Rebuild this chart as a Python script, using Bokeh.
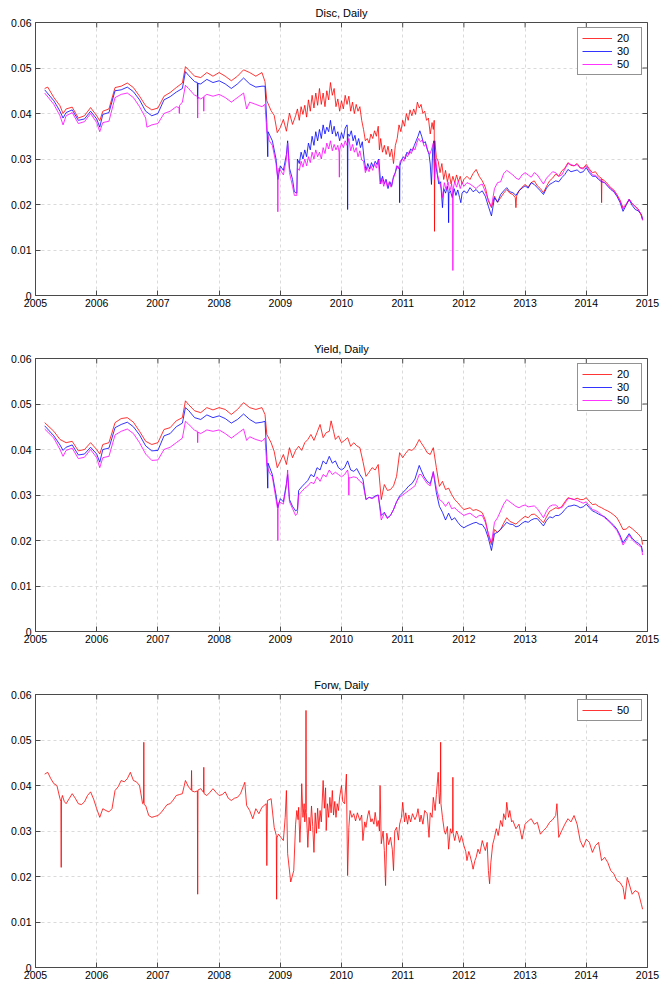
import math
from bokeh.plotting import figure
from bokeh.layouts import column
from bokeh.models import FixedTicker, Legend, LegendItem, Range1d
from bokeh.embed import file_html
from bokeh.resources import INLINE

# ---- axis ticks -------------------------------------------------------------
YEAR_TICKS = list(range(2005, 2016))
Y_TICKS = [0, 0.01, 0.02, 0.03, 0.04, 0.05, 0.06]
Y_LABELS = ["0", "0.01", "0.02", "0.03", "0.04", "0.05", "0.06"]

# ---- Disc, Daily (time in decimal years, rate) --------------------------------
disc_20 = [(2005.15,0.0455),(2005.2,0.0458),(2005.3,0.0435),(2005.4,0.0417),(2005.45,0.0400),(2005.5,0.0410),(2005.6,0.0414),(2005.7,0.0390),(2005.8,0.0395),(2005.9,0.0413),(2006.0,0.0395),(2006.05,0.0384),(2006.1,0.0405),(2006.2,0.0410),(2006.3,0.0457),(2006.4,0.0460),(2006.5,0.0467),(2006.6,0.0457),(2006.7,0.0438),(2006.8,0.0417),(2006.9,0.0408),(2007.0,0.0412),(2007.1,0.0438),(2007.2,0.0446),(2007.3,0.0457),(2007.4,0.0467),(2007.45,0.0503),(2007.5,0.0496),(2007.6,0.0482),(2007.7,0.0479),(2007.8,0.0490),(2007.9,0.0482),(2008.0,0.0490),(2008.1,0.0482),(2008.2,0.0472),(2008.3,0.0482),(2008.4,0.0496),(2008.5,0.0490),(2008.6,0.0482),(2008.7,0.0490),(2008.75,0.0470),(2008.78,0.0428),(2008.85,0.0406),(2008.9,0.0396),(2008.95,0.0358),(2009.0,0.0369),(2009.05,0.0387),(2009.1,0.0361),(2009.15,0.0401),(2009.2,0.0376),
    (2009.25,0.0395),(2009.28,0.0410),(2009.31,0.0385),(2009.34,0.0415),(2009.37,0.0398),(2009.40,0.0418),(2009.43,0.0392),(2009.46,0.0430),(2009.49,0.0405),(2009.52,0.0440),(2009.55,0.0412),(2009.58,0.0445),(2009.61,0.0418),(2009.64,0.0455),(2009.67,0.0420),(2009.70,0.0445),(2009.73,0.0415),(2009.76,0.0450),(2009.79,0.0430),(2009.82,0.0468),(2009.85,0.0440),(2009.88,0.0455),(2009.91,0.0415),(2009.94,0.0432),(2009.97,0.0405),(2010.00,0.0428),(2010.03,0.0410),(2010.06,0.0440),(2010.09,0.0420),(2010.12,0.0438),(2010.15,0.0405),(2010.18,0.0425),(2010.21,0.0400),(2010.24,0.0420),(2010.27,0.0405),(2010.30,0.0415),(2010.33,0.0385),(2010.36,0.0365),(2010.39,0.0340),(2010.42,0.0345),(2010.45,0.0335),(2010.48,0.0355),(2010.51,0.0345),(2010.54,0.0362),(2010.57,0.0350),(2010.60,0.0372),(2010.62,0.0320),(2010.64,0.0345),(2010.67,0.0315),(2010.70,0.0330),(2010.73,0.0310),(2010.76,0.0328),(2010.79,0.0305),(2010.82,0.0322),(2010.85,0.0290),(2010.88,0.0330),(2010.91,0.0345),(2010.94,0.0375),(2010.97,0.0360),(2011.00,0.0385),(2011.03,0.0372),(2011.06,0.0400),(2011.09,0.0385),(2011.12,0.0408),(2011.15,0.0395),(2011.18,0.0410),(2011.21,0.0398),(2011.24,0.0425),(2011.27,0.0412),(2011.30,0.0420),(2011.33,0.0400),(2011.36,0.0405),(2011.39,0.0385),(2011.42,0.0390),(2011.45,0.0355),(2011.48,0.0380),(2011.50,0.0365),(2011.515,0.0385),(2011.52,0.0141),(2011.525,0.0340),(2011.55,0.0303),(2011.58,0.0295),(2011.61,0.0270),(2011.64,0.0290),(2011.67,0.0255),(2011.70,0.0275),(2011.73,0.0250),(2011.76,0.0268),(2011.79,0.0245),(2011.82,0.0262),(2011.85,0.0248),(2011.88,0.0265),(2011.91,0.0250),(2011.94,0.0262),(2011.97,0.0245),(2012.0,0.0255),
    (2012.05,0.0262),(2012.1,0.0255),(2012.15,0.0268),(2012.2,0.0277),(2012.25,0.0262),(2012.3,0.0252),(2012.35,0.0238),(2012.4,0.0208),(2012.45,0.0193),(2012.5,0.0218),(2012.55,0.0205),(2012.6,0.0215),(2012.65,0.0225),(2012.7,0.0233),(2012.75,0.0225),(2012.8,0.0222),(2012.84,0.0215),(2012.85,0.0193),(2012.86,0.0218),(2012.9,0.0230),(2012.95,0.0238),(2013.0,0.0244),(2013.05,0.0238),(2013.1,0.0248),(2013.15,0.0252),(2013.2,0.0241),(2013.25,0.0235),(2013.3,0.0226),(2013.35,0.0240),(2013.4,0.0252),(2013.45,0.0258),(2013.5,0.0267),(2013.55,0.0262),(2013.6,0.0274),(2013.65,0.0280),(2013.7,0.0292),(2013.75,0.0286),(2013.8,0.0285),(2013.85,0.0290),(2013.9,0.0281),(2013.95,0.0280),(2014.0,0.0288),(2014.05,0.0278),(2014.1,0.0270),(2014.15,0.0272),(2014.2,0.0262),(2014.245,0.0258),(2014.25,0.0204),(2014.255,0.0256),(2014.3,0.0252),(2014.35,0.0245),(2014.4,0.0237),(2014.45,0.0232),(2014.5,0.0222),(2014.55,0.0210),(2014.6,0.0193),(2014.65,0.0200),(2014.7,0.0211),(2014.75,0.0202),(2014.8,0.0196),(2014.85,0.0190),(2014.9,0.0175),(2014.92,0.0167)]

disc_30 = [(2005.15,0.0452),(2005.3,0.0428),(2005.4,0.0405),(2005.45,0.0390),(2005.5,0.0402),(2005.6,0.0408),(2005.7,0.0385),(2005.8,0.0388),(2005.9,0.0405),(2006.0,0.0388),(2006.05,0.0370),(2006.1,0.0398),(2006.2,0.0402),(2006.3,0.0450),(2006.4,0.0452),(2006.5,0.0458),(2006.6,0.0448),(2006.7,0.0430),(2006.8,0.0405),(2006.9,0.0395),(2007.0,0.0400),(2007.1,0.0430),(2007.2,0.0437),(2007.3,0.0447),(2007.4,0.0455),(2007.45,0.0492),(2007.5,0.0484),(2007.6,0.0470),(2007.645,0.0468),(2007.65,0.0432),(2007.655,0.0466),(2007.7,0.0465),(2007.8,0.0475),(2007.9,0.0468),(2008.0,0.0472),(2008.1,0.0465),(2008.2,0.0455),(2008.3,0.0465),(2008.4,0.0478),(2008.5,0.0465),(2008.6,0.0458),(2008.7,0.0460),(2008.75,0.0460),(2008.78,0.0380),(2008.795,0.0305),(2008.80,0.0360),(2008.87,0.0340),(2008.93,0.0300),(2008.96,0.0255),(2009.0,0.0285),(2009.05,0.0275),(2009.1,0.0310),(2009.12,0.0340),(2009.15,0.0280),(2009.2,0.0255),(2009.23,0.0228),(2009.27,0.0225),
    (2009.28,0.0300),(2009.31,0.0290),(2009.34,0.0315),(2009.37,0.0300),(2009.40,0.0320),(2009.43,0.0305),(2009.46,0.0335),(2009.49,0.0320),(2009.52,0.0350),(2009.55,0.0330),(2009.58,0.0360),(2009.61,0.0340),(2009.64,0.0365),(2009.67,0.0345),(2009.70,0.0375),(2009.73,0.0355),(2009.76,0.0370),(2009.79,0.0360),(2009.82,0.0385),(2009.85,0.0355),(2009.88,0.0372),(2009.91,0.0350),(2009.94,0.0360),(2009.97,0.0340),(2010.00,0.0358),(2010.03,0.0345),(2010.06,0.0368),(2010.09,0.0375),(2010.095,0.0370),(2010.1,0.0189),(2010.105,0.0355),(2010.13,0.0350),(2010.16,0.0362),(2010.19,0.0340),(2010.22,0.0352),(2010.25,0.0330),(2010.28,0.0345),(2010.31,0.0325),(2010.34,0.0338),(2010.37,0.0300),(2010.40,0.0275),(2010.43,0.0290),(2010.46,0.0278),(2010.49,0.0292),(2010.52,0.0282),(2010.55,0.0295),(2010.58,0.0288),(2010.61,0.0300),(2010.64,0.0245),(2010.67,0.0262),(2010.70,0.0245),(2010.73,0.0255),(2010.76,0.0235),(2010.79,0.0250),(2010.82,0.0240),(2010.85,0.0262),(2010.88,0.0270),(2010.91,0.0285),(2010.945,0.0280),(2010.95,0.0204),(2010.955,0.0285),(2010.98,0.0298),(2011.01,0.0305),(2011.04,0.0300),(2011.07,0.0315),(2011.10,0.0310),(2011.13,0.0322),(2011.16,0.0318),(2011.19,0.0330),(2011.22,0.0340),(2011.25,0.0350),(2011.28,0.0362),(2011.31,0.0350),(2011.34,0.0335),(2011.37,0.0338),(2011.40,0.0322),(2011.43,0.0310),(2011.45,0.0289),(2011.47,0.0244),(2011.49,0.0320),(2011.51,0.0340),(2011.53,0.0295),(2011.56,0.0270),(2011.59,0.0245),(2011.62,0.0250),(2011.65,0.0193),(2011.67,0.0235),(2011.70,0.0225),(2011.73,0.0240),(2011.745,0.0225),(2011.75,0.0160),(2011.755,0.0225),(2011.78,0.0230),(2011.81,0.0215),(2011.84,0.0235),(2011.87,0.0220),(2011.90,0.0232),(2011.93,0.0215),(2011.95,0.0204),(2011.97,0.0225),(2012.0,0.0230),
    (2012.05,0.0225),(2012.1,0.0237),(2012.15,0.0228),(2012.2,0.0233),(2012.25,0.0225),(2012.3,0.0230),(2012.35,0.0218),(2012.4,0.0196),(2012.45,0.0175),(2012.5,0.0215),(2012.55,0.0205),(2012.6,0.0222),(2012.65,0.0230),(2012.7,0.0237),(2012.75,0.0228),(2012.8,0.0226),(2012.85,0.0220),(2012.9,0.0230),(2012.95,0.0236),(2013.0,0.0241),(2013.05,0.0236),(2013.1,0.0248),(2013.15,0.0244),(2013.2,0.0237),(2013.25,0.0230),(2013.3,0.0222),(2013.35,0.0236),(2013.4,0.0244),(2013.45,0.0248),(2013.5,0.0252),(2013.55,0.0250),(2013.6,0.0259),(2013.65,0.0266),(2013.7,0.0277),(2013.75,0.0272),(2013.8,0.0274),(2013.85,0.0276),(2013.9,0.0270),(2013.95,0.0272),(2014.0,0.0281),(2014.05,0.0270),(2014.1,0.0262),(2014.15,0.0262),(2014.2,0.0255),(2014.25,0.0250),(2014.3,0.0248),(2014.35,0.0240),(2014.4,0.0233),(2014.45,0.0228),(2014.5,0.0218),(2014.55,0.0205),(2014.6,0.0185),(2014.65,0.0198),(2014.7,0.0211),(2014.75,0.0198),(2014.8,0.0189),(2014.85,0.0186),(2014.9,0.0178),(2014.92,0.0167)]

disc_50 = [(2005.15,0.0445),(2005.3,0.0420),(2005.4,0.0395),(2005.45,0.0375),(2005.5,0.0395),(2005.6,0.0402),(2005.7,0.0378),(2005.8,0.0382),(2005.9,0.0400),(2006.0,0.0380),(2006.05,0.0360),(2006.1,0.0380),(2006.2,0.0383),(2006.3,0.0435),(2006.4,0.0442),(2006.5,0.0445),(2006.6,0.0435),(2006.7,0.0415),(2006.8,0.0390),(2006.82,0.0370),(2006.9,0.0375),(2007.0,0.0378),(2007.1,0.0400),(2007.2,0.0405),(2007.3,0.0415),(2007.345,0.0413),(2007.35,0.0400),(2007.355,0.0418),(2007.4,0.0425),(2007.45,0.0462),(2007.5,0.0455),(2007.6,0.0440),(2007.645,0.0438),(2007.65,0.0390),(2007.655,0.0436),(2007.7,0.0432),(2007.745,0.0436),(2007.75,0.0405),(2007.755,0.0438),(2007.8,0.0442),(2007.9,0.0438),(2008.0,0.0442),(2008.1,0.0435),(2008.2,0.0425),(2008.3,0.0435),(2008.4,0.0445),(2008.45,0.0410),(2008.5,0.0425),(2008.6,0.0420),(2008.7,0.0415),(2008.75,0.0420),(2008.78,0.0360),(2008.82,0.0340),(2008.87,0.0330),(2008.93,0.0290),(2008.955,0.0260),(2008.96,0.0184),(2008.965,0.0270),(2008.98,0.0280),(2009.05,0.0265),(2009.1,0.0300),(2009.12,0.0335),(2009.15,0.0270),(2009.2,0.0240),(2009.23,0.0220),(2009.27,0.0220),
    (2009.28,0.0280),(2009.31,0.0275),(2009.34,0.0295),(2009.37,0.0282),(2009.40,0.0300),(2009.43,0.0285),(2009.46,0.0305),(2009.49,0.0292),(2009.52,0.0315),(2009.55,0.0300),(2009.58,0.0320),(2009.61,0.0305),(2009.64,0.0315),(2009.67,0.0300),(2009.70,0.0325),(2009.73,0.0312),(2009.76,0.0335),(2009.79,0.0322),(2009.82,0.0340),(2009.85,0.0318),(2009.88,0.0332),(2009.91,0.0320),(2009.94,0.0330),(2009.96,0.0315),(2009.965,0.0260),(2009.97,0.0320),(2010.0,0.0335),(2010.03,0.0325),(2010.06,0.0340),(2010.09,0.0330),(2010.12,0.0345),(2010.15,0.0318),(2010.18,0.0332),(2010.21,0.0315),(2010.24,0.0325),(2010.27,0.0305),(2010.30,0.0318),(2010.33,0.0298),(2010.36,0.0295),(2010.39,0.0270),(2010.42,0.0282),(2010.45,0.0272),(2010.48,0.0285),(2010.51,0.0275),(2010.54,0.0290),(2010.57,0.0280),(2010.60,0.0298),(2010.63,0.0245),(2010.66,0.0258),(2010.69,0.0240),(2010.72,0.0255),(2010.75,0.0238),(2010.78,0.0250),(2010.81,0.0238),(2010.84,0.0255),(2010.87,0.0265),(2010.90,0.0285),(2010.93,0.0278),(2010.96,0.0295),(2010.99,0.0300),(2011.02,0.0295),(2011.05,0.0310),(2011.08,0.0305),(2011.11,0.0318),(2011.14,0.0312),(2011.17,0.0325),(2011.20,0.0320),(2011.23,0.0335),(2011.26,0.0345),(2011.29,0.0338),(2011.32,0.0342),(2011.35,0.0328),(2011.38,0.0332),(2011.41,0.0318),(2011.44,0.0310),(2011.47,0.0320),(2011.50,0.0335),(2011.52,0.0255),(2011.54,0.0300),(2011.57,0.0265),(2011.60,0.0250),(2011.63,0.0235),(2011.65,0.0215),(2011.68,0.0248),(2011.71,0.0232),(2011.74,0.0250),(2011.77,0.0230),(2011.80,0.0245),(2011.815,0.0225),(2011.82,0.0055),(2011.825,0.0235),(2011.85,0.0250),(2011.88,0.0238),(2011.91,0.0252),(2011.94,0.0235),(2011.97,0.0248),(2012.0,0.0240),
    (2012.05,0.0248),(2012.1,0.0245),(2012.15,0.0240),(2012.2,0.0235),(2012.25,0.0242),(2012.3,0.0245),(2012.35,0.0228),(2012.4,0.0210),(2012.45,0.0195),(2012.5,0.0235),(2012.55,0.0248),(2012.6,0.0250),(2012.65,0.0268),(2012.7,0.0275),(2012.75,0.0270),(2012.8,0.0265),(2012.85,0.0258),(2012.9,0.0255),(2012.95,0.0265),(2013.0,0.0270),(2013.05,0.0265),(2013.1,0.0260),(2013.15,0.0270),(2013.2,0.0265),(2013.25,0.0255),(2013.3,0.0245),(2013.35,0.0258),(2013.4,0.0265),(2013.45,0.0272),(2013.5,0.0270),(2013.55,0.0262),(2013.6,0.0265),(2013.65,0.0278),(2013.7,0.0290),(2013.75,0.0288),(2013.8,0.0285),(2013.85,0.0288),(2013.9,0.0280),(2013.95,0.0278),(2014.0,0.0285),(2014.05,0.0275),(2014.1,0.0265),(2014.15,0.0264),(2014.2,0.0258),(2014.25,0.0252),(2014.3,0.0248),(2014.35,0.0242),(2014.4,0.0235),(2014.45,0.0230),(2014.5,0.0220),(2014.55,0.0208),(2014.6,0.0190),(2014.65,0.0200),(2014.7,0.0212),(2014.75,0.0202),(2014.8,0.0195),(2014.85,0.0188),(2014.9,0.0178),(2014.92,0.0165)]

# ---- Yield, Daily ------------------------------------------------------------
yield_20 = [(2005.15,0.0459),(2005.3,0.0440),(2005.4,0.0422),(2005.5,0.0415),(2005.6,0.0418),(2005.7,0.0397),(2005.8,0.0400),(2005.9,0.0415),(2006.0,0.0400),(2006.05,0.0390),(2006.1,0.0411),(2006.2,0.0415),(2006.3,0.0459),(2006.4,0.0468),(2006.5,0.0470),(2006.6,0.0460),(2006.7,0.0440),(2006.8,0.0418),(2006.9,0.0411),(2007.0,0.0415),(2007.1,0.0444),(2007.2,0.0448),(2007.3,0.0463),(2007.4,0.0470),(2007.45,0.0507),(2007.5,0.0499),(2007.6,0.0485),(2007.7,0.0481),(2007.8,0.0492),(2007.9,0.0487),(2008.0,0.0492),(2008.1,0.0488),(2008.2,0.0477),(2008.3,0.0488),(2008.4,0.0503),(2008.5,0.0492),(2008.6,0.0488),(2008.7,0.0492),(2008.75,0.0477),(2008.78,0.0433),(2008.85,0.0415),(2008.9,0.0396),(2008.95,0.0360),(2009.0,0.0374),(2009.05,0.0389),(2009.1,0.0367),(2009.15,0.0404),(2009.2,0.0382),(2009.25,0.0398),(2009.3,0.0407),(2009.35,0.0398),(2009.4,0.0415),(2009.45,0.0422),(2009.5,0.0433),(2009.55,0.0420),(2009.6,0.0437),(2009.65,0.0455),(2009.7,0.0426),(2009.75,0.0437),(2009.8,0.0440),(2009.83,0.0463),(2009.87,0.0440),(2009.9,0.0422),(2009.95,0.0430),(2010.0,0.0415),(2010.05,0.0420),(2010.1,0.0426),(2010.15,0.0407),(2010.2,0.0415),(2010.25,0.0408),(2010.3,0.0404),(2010.35,0.0374),(2010.4,0.0341),(2010.45,0.0350),(2010.5,0.0360),(2010.55,0.0355),(2010.6,0.0367),(2010.65,0.0290),(2010.7,0.0323),(2010.75,0.0310),(2010.8,0.0312),(2010.85,0.0320),(2010.9,0.0341),(2010.95,0.0393),(2011.0,0.0382),(2011.05,0.0392),(2011.1,0.0400),(2011.15,0.0398),(2011.2,0.0404),(2011.27,0.0422),(2011.3,0.0415),(2011.35,0.0405),(2011.4,0.0393),(2011.45,0.0389),(2011.5,0.0404),(2011.55,0.0360),(2011.6,0.0319),(2011.65,0.0330),(2011.7,0.0312),(2011.75,0.0315),(2011.8,0.0301),(2011.85,0.0290),(2011.9,0.0283),(2011.95,0.0275),(2012.0,0.0268),(2012.05,0.0270),(2012.1,0.0272),(2012.15,0.0266),(2012.2,0.0268),(2012.25,0.0265),(2012.3,0.0261),(2012.35,0.0245),(2012.4,0.0213),(2012.45,0.0191),(2012.5,0.0224),(2012.55,0.0218),(2012.6,0.0224),(2012.65,0.0238),(2012.7,0.0250),(2012.75,0.0242),(2012.8,0.0239),(2012.85,0.0236),(2012.9,0.0242),(2012.95,0.0248),(2013.0,0.0253),(2013.05,0.0250),(2013.1,0.0257),(2013.15,0.0258),(2013.2,0.0253),(2013.25,0.0246),(2013.3,0.0239),(2013.35,0.0252),(2013.4,0.0264),(2013.45,0.0268),(2013.5,0.0272),(2013.55,0.0270),(2013.6,0.0275),(2013.65,0.0285),(2013.7,0.0294),(2013.75,0.0292),(2013.8,0.0290),(2013.85,0.0293),(2013.9,0.0290),(2013.95,0.0290),(2014.0,0.0294),(2014.05,0.0286),(2014.1,0.0279),(2014.15,0.0280),(2014.2,0.0275),(2014.25,0.0272),(2014.3,0.0268),(2014.35,0.0265),(2014.4,0.0261),(2014.45,0.0256),(2014.5,0.0250),(2014.55,0.0238),(2014.6,0.0224),(2014.65,0.0225),(2014.7,0.0231),(2014.75,0.0226),(2014.8,0.0220),(2014.85,0.0214),(2014.9,0.0206),(2014.92,0.0191)]

yield_30 = [(2005.15,0.0452),(2005.3,0.0430),(2005.4,0.0410),(2005.45,0.0398),(2005.5,0.0405),(2005.6,0.0410),(2005.7,0.0388),(2005.8,0.0390),(2005.9,0.0405),(2006.0,0.0390),(2006.05,0.0372),(2006.1,0.0400),(2006.2,0.0403),(2006.3,0.0448),(2006.4,0.0455),(2006.5,0.0460),(2006.6,0.0450),(2006.7,0.0432),(2006.8,0.0408),(2006.9,0.0397),(2007.0,0.0398),(2007.1,0.0430),(2007.2,0.0435),(2007.3,0.0450),(2007.4,0.0458),(2007.45,0.0492),(2007.5,0.0486),(2007.6,0.0470),(2007.7,0.0466),(2007.8,0.0476),(2007.9,0.0470),(2008.0,0.0474),(2008.1,0.0468),(2008.2,0.0458),(2008.3,0.0466),(2008.4,0.0478),(2008.5,0.0466),(2008.6,0.0458),(2008.7,0.0460),(2008.75,0.0462),(2008.78,0.0385),(2008.795,0.0315),(2008.80,0.0370),(2008.87,0.0345),(2008.93,0.0300),(2008.96,0.0272),(2009.0,0.0292),(2009.05,0.0285),(2009.1,0.0325),(2009.12,0.0345),(2009.15,0.0290),(2009.2,0.0275),(2009.25,0.0265),(2009.28,0.0268),(2009.3,0.0310),(2009.35,0.0318),(2009.4,0.0325),(2009.45,0.0332),(2009.5,0.0345),(2009.55,0.0340),(2009.6,0.0360),(2009.65,0.0355),(2009.7,0.0375),(2009.75,0.0368),(2009.8,0.0385),(2009.85,0.0370),(2009.9,0.0375),(2009.95,0.0360),(2010.0,0.0355),(2010.05,0.0360),(2010.1,0.0375),(2010.15,0.0355),(2010.2,0.0352),(2010.25,0.0358),(2010.3,0.0345),(2010.35,0.0335),(2010.4,0.0290),(2010.45,0.0295),(2010.5,0.0293),(2010.55,0.0298),(2010.6,0.0300),(2010.65,0.0255),(2010.7,0.0262),(2010.75,0.0250),(2010.8,0.0255),(2010.85,0.0268),(2010.9,0.0285),(2010.95,0.0298),(2011.0,0.0305),(2011.05,0.0312),(2011.1,0.0320),(2011.15,0.0325),(2011.2,0.0335),(2011.27,0.0365),(2011.3,0.0355),(2011.35,0.0340),(2011.4,0.0330),(2011.45,0.0325),(2011.5,0.0350),(2011.55,0.0305),(2011.6,0.0275),(2011.65,0.0262),(2011.7,0.0245),(2011.75,0.0260),(2011.8,0.0245),(2011.85,0.0250),(2011.9,0.0240),(2011.95,0.0232),(2012.0,0.0228),(2012.05,0.0232),(2012.1,0.0235),(2012.15,0.0238),(2012.2,0.0240),(2012.25,0.0236),(2012.3,0.0235),(2012.35,0.0225),(2012.4,0.0205),(2012.45,0.0178),(2012.5,0.0215),(2012.55,0.0218),(2012.6,0.0225),(2012.65,0.0232),(2012.7,0.0240),(2012.75,0.0236),(2012.8,0.0235),(2012.85,0.0230),(2012.9,0.0232),(2012.95,0.0238),(2013.0,0.0242),(2013.05,0.0240),(2013.1,0.0245),(2013.15,0.0248),(2013.2,0.0248),(2013.25,0.0240),(2013.3,0.0232),(2013.35,0.0244),(2013.4,0.0252),(2013.45,0.0250),(2013.5,0.0255),(2013.55,0.0255),(2013.6,0.0260),(2013.65,0.0268),(2013.7,0.0275),(2013.75,0.0276),(2013.8,0.0278),(2013.85,0.0276),(2013.9,0.0272),(2013.95,0.0274),(2014.0,0.0280),(2014.05,0.0272),(2014.1,0.0265),(2014.15,0.0262),(2014.2,0.0258),(2014.25,0.0255),(2014.3,0.0252),(2014.35,0.0246),(2014.4,0.0240),(2014.45,0.0233),(2014.5,0.0225),(2014.55,0.0212),(2014.6,0.0195),(2014.65,0.0205),(2014.7,0.0215),(2014.75,0.0205),(2014.8,0.0198),(2014.85,0.0194),(2014.9,0.0188),(2014.92,0.0175)]

yield_50 = [(2005.15,0.0445),(2005.3,0.0425),(2005.4,0.0400),(2005.45,0.0385),(2005.5,0.0398),(2005.6,0.0403),(2005.7,0.0380),(2005.8,0.0383),(2005.9,0.0400),(2006.0,0.0382),(2006.05,0.0360),(2006.1,0.0382),(2006.2,0.0385),(2006.3,0.0432),(2006.4,0.0440),(2006.5,0.0445),(2006.6,0.0435),(2006.7,0.0415),(2006.8,0.0390),(2006.9,0.0376),(2007.0,0.0377),(2007.1,0.0400),(2007.2,0.0405),(2007.3,0.0415),(2007.4,0.0425),(2007.45,0.0462),(2007.5,0.0456),(2007.6,0.0442),(2007.645,0.0440),(2007.65,0.0415),(2007.655,0.0438),(2007.7,0.0435),(2007.8,0.0443),(2007.9,0.0440),(2008.0,0.0443),(2008.1,0.0435),(2008.2,0.0425),(2008.3,0.0435),(2008.4,0.0445),(2008.45,0.0420),(2008.5,0.0428),(2008.6,0.0422),(2008.7,0.0418),(2008.75,0.0425),(2008.78,0.0365),(2008.82,0.0350),(2008.87,0.0340),(2008.93,0.0290),(2008.955,0.0270),(2008.96,0.0200),(2008.965,0.0275),(2008.98,0.0285),(2009.05,0.0280),(2009.1,0.0320),(2009.12,0.0355),(2009.15,0.0285),(2009.2,0.0270),(2009.25,0.0255),(2009.28,0.0260),(2009.3,0.0300),(2009.35,0.0308),(2009.4,0.0315),(2009.45,0.0320),(2009.5,0.0328),(2009.55,0.0325),(2009.6,0.0340),(2009.65,0.0330),(2009.7,0.0345),(2009.75,0.0340),(2009.8,0.0355),(2009.85,0.0345),(2009.9,0.0350),(2009.95,0.0345),(2010.0,0.0340),(2010.05,0.0345),(2010.1,0.0355),(2010.115,0.0340),(2010.12,0.0300),(2010.125,0.0338),(2010.15,0.0338),(2010.2,0.0340),(2010.25,0.0338),(2010.3,0.0330),(2010.35,0.0325),(2010.4,0.0290),(2010.45,0.0295),(2010.5,0.0292),(2010.55,0.0296),(2010.6,0.0300),(2010.65,0.0245),(2010.7,0.0260),(2010.75,0.0248),(2010.8,0.0255),(2010.85,0.0268),(2010.9,0.0285),(2010.95,0.0295),(2011.0,0.0300),(2011.05,0.0305),(2011.1,0.0310),(2011.15,0.0315),(2011.2,0.0320),(2011.27,0.0345),(2011.3,0.0345),(2011.35,0.0335),(2011.4,0.0325),(2011.45,0.0320),(2011.5,0.0352),(2011.55,0.0315),(2011.6,0.0290),(2011.65,0.0285),(2011.7,0.0275),(2011.75,0.0285),(2011.8,0.0270),(2011.85,0.0272),(2011.9,0.0265),(2011.95,0.0260),(2012.0,0.0255),(2012.05,0.0258),(2012.1,0.0260),(2012.15,0.0255),(2012.2,0.0250),(2012.25,0.0255),(2012.3,0.0255),(2012.35,0.0240),(2012.4,0.0215),(2012.45,0.0195),(2012.5,0.0240),(2012.55,0.0250),(2012.6,0.0265),(2012.65,0.0280),(2012.7,0.0290),(2012.75,0.0285),(2012.8,0.0280),(2012.85,0.0275),(2012.9,0.0272),(2012.95,0.0276),(2013.0,0.0278),(2013.05,0.0274),(2013.1,0.0275),(2013.15,0.0276),(2013.2,0.0270),(2013.25,0.0260),(2013.3,0.0250),(2013.35,0.0265),(2013.4,0.0275),(2013.45,0.0278),(2013.5,0.0278),(2013.55,0.0272),(2013.6,0.0272),(2013.65,0.0282),(2013.7,0.0292),(2013.75,0.0292),(2013.8,0.0290),(2013.85,0.0288),(2013.9,0.0285),(2013.95,0.0282),(2014.0,0.0285),(2014.05,0.0276),(2014.1,0.0268),(2014.15,0.0266),(2014.2,0.0262),(2014.25,0.0256),(2014.3,0.0250),(2014.35,0.0244),(2014.4,0.0238),(2014.45,0.0230),(2014.5,0.0222),(2014.55,0.0208),(2014.6,0.0190),(2014.65,0.0200),(2014.7,0.0212),(2014.75,0.0202),(2014.8,0.0195),(2014.85,0.0190),(2014.9,0.0185),(2014.92,0.0168)]

# ---- Forw, Daily -------------------------------------------------------------
forw_50 = [(2005.15,0.0425),(2005.2,0.0429),(2005.25,0.0415),(2005.3,0.0404),(2005.35,0.0400),(2005.4,0.0371),(2005.415,0.0365),(2005.42,0.0220),(2005.425,0.0370),(2005.44,0.0378),(2005.47,0.0365),(2005.5,0.0360),(2005.55,0.0371),(2005.6,0.0382),(2005.65,0.0372),(2005.7,0.0360),(2005.75,0.0358),(2005.8,0.0364),(2005.85,0.0378),(2005.9,0.0386),(2005.95,0.0370),(2006.0,0.0349),(2006.05,0.0330),(2006.1,0.0349),(2006.15,0.0345),(2006.2,0.0342),(2006.25,0.0349),(2006.3,0.0389),(2006.35,0.0397),(2006.4,0.0411),(2006.45,0.0408),(2006.5,0.0415),(2006.55,0.0429),(2006.6,0.0411),(2006.65,0.0408),(2006.7,0.0400),(2006.75,0.0360),(2006.765,0.0362),(2006.77,0.0495),(2006.775,0.0358),(2006.8,0.0356),(2006.85,0.0334),(2006.9,0.0330),(2006.95,0.0332),(2007.0,0.0334),(2007.05,0.0340),(2007.1,0.0349),(2007.15,0.0358),(2007.2,0.0360),(2007.25,0.0368),(2007.3,0.0378),(2007.35,0.0380),(2007.4,0.0382),(2007.45,0.0411),(2007.5,0.0397),(2007.545,0.0390),(2007.55,0.0433),(2007.555,0.0388),(2007.6,0.0386),(2007.645,0.0388),(2007.65,0.0161),(2007.655,0.0390),(2007.7,0.0393),(2007.745,0.0385),(2007.75,0.0440),(2007.755,0.0382),(2007.8,0.0378),(2007.85,0.0385),(2007.9,0.0393),(2007.95,0.0385),(2008.0,0.0378),(2008.05,0.0380),(2008.1,0.0386),(2008.15,0.0372),(2008.2,0.0367),(2008.25,0.0372),(2008.3,0.0374),(2008.35,0.0382),(2008.4,0.0400),(2008.42,0.0407),(2008.45,0.0356),(2008.5,0.0345),(2008.55,0.0327),(2008.6,0.0349),(2008.65,0.0338),(2008.7,0.0352),(2008.77,0.0360),(2008.78,0.0224),(2008.79,0.0367),(2008.85,0.0371),(2008.9,0.0308),(2008.935,0.0290),(2008.94,0.0150),(2008.945,0.0285),(2008.97,0.0293),(2009.05,0.0279),(2009.08,0.0330),(2009.1,0.0389),(2009.12,0.0250),(2009.17,0.0188),(2009.22,0.0213),
    (2009.25,0.0315),(2009.27,0.0345),(2009.29,0.0325),(2009.30,0.0352),(2009.32,0.0275),(2009.34,0.0340),(2009.35,0.0404),(2009.37,0.0330),(2009.39,0.0360),(2009.40,0.0320),(2009.415,0.0350),(2009.42,0.0565),(2009.425,0.0340),(2009.44,0.0300),(2009.45,0.0264),(2009.47,0.0330),(2009.49,0.0300),(2009.51,0.0355),(2009.53,0.0310),(2009.55,0.0253),(2009.57,0.0340),(2009.59,0.0295),(2009.61,0.0350),(2009.63,0.0305),(2009.65,0.0345),(2009.67,0.0320),(2009.70,0.0411),(2009.72,0.0350),(2009.74,0.0395),(2009.75,0.0301),(2009.77,0.0360),(2009.79,0.0330),(2009.81,0.0374),(2009.83,0.0340),(2009.85,0.0389),(2009.87,0.0335),(2009.89,0.0365),(2009.91,0.0330),(2009.93,0.0360),(2009.95,0.0345),(2009.97,0.0375),(2010.0,0.0400),(2010.02,0.0365),(2010.05,0.0360),(2010.08,0.0425),(2010.1,0.0202),(2010.12,0.0308),(2010.14,0.0345),(2010.17,0.0330),(2010.2,0.0338),(2010.23,0.0322),(2010.26,0.0340),(2010.3,0.0323),(2010.33,0.0335),(2010.35,0.0279),(2010.38,0.0320),(2010.4,0.0308),(2010.43,0.0335),(2010.45,0.0345),(2010.48,0.0320),(2010.5,0.0327),(2010.53,0.0315),(2010.55,0.0341),(2010.58,0.0310),(2010.6,0.0323),(2010.62,0.0300),(2010.63,0.0400),(2010.65,0.0272),(2010.68,0.0300),(2010.7,0.0257),(2010.72,0.0180),(2010.74,0.0295),(2010.77,0.0270),(2010.8,0.0286),(2010.83,0.0260),(2010.85,0.0213),(2010.87,0.0300),(2010.9,0.0308),(2010.93,0.0280),(2010.95,0.0315),(2010.98,0.0330),(2011.0,0.0363),(2011.03,0.0320),(2011.05,0.0340),(2011.08,0.0315),(2011.1,0.0335),(2011.13,0.0320),(2011.16,0.0338),(2011.2,0.0325),(2011.23,0.0335),(2011.25,0.0349),(2011.28,0.0320),(2011.3,0.0335),(2011.33,0.0315),(2011.36,0.0345),(2011.4,0.0338),(2011.43,0.0286),(2011.45,0.0340),(2011.48,0.0330),(2011.5,0.0374),(2011.53,0.0345),(2011.55,0.0380),(2011.58,0.0429),(2011.60,0.0360),(2011.615,0.0385),(2011.62,0.0495),(2011.625,0.0360),(2011.65,0.0330),(2011.68,0.0300),(2011.7,0.0293),(2011.73,0.0310),(2011.75,0.0260),(2011.78,0.0305),(2011.8,0.0295),(2011.815,0.0300),(2011.82,0.0418),(2011.825,0.0295),(2011.85,0.0279),(2011.88,0.0300),(2011.9,0.0293),(2011.93,0.0275),(2011.96,0.0290),(2012.0,0.0268),(2012.03,0.0255),(2012.05,0.0235),(2012.08,0.0255),(2012.1,0.0246),(2012.13,0.0230),(2012.15,0.0216),(2012.18,0.0235),(2012.2,0.0242),(2012.23,0.0260),(2012.26,0.0250),(2012.3,0.0279),(2012.33,0.0265),(2012.35,0.0257),(2012.38,0.0275),(2012.4,0.0213),(2012.42,0.0184),(2012.44,0.0230),(2012.47,0.0270),(2012.5,0.0286),(2012.53,0.0305),(2012.56,0.0290),(2012.6,0.0323),(2012.63,0.0310),(2012.65,0.0338),(2012.68,0.0325),(2012.7,0.0363),(2012.73,0.0330),(2012.75,0.0345),(2012.78,0.0320),(2012.8,0.0323),(2012.85,0.0305),(2012.9,0.0315),(2012.95,0.0282),(2013.0,0.0315),(2013.05,0.0322),(2013.1,0.0327),(2013.15,0.0315),(2013.2,0.0319),(2013.25,0.0293),(2013.3,0.0301),(2013.35,0.0308),(2013.4,0.0319),(2013.45,0.0325),(2013.5,0.0334),(2013.52,0.0360),(2013.55,0.0286),(2013.6,0.0301),(2013.65,0.0315),(2013.7,0.0327),(2013.75,0.0320),(2013.8,0.0334),(2013.85,0.0315),(2013.9,0.0279),(2013.95,0.0264),(2014.0,0.0282),(2014.05,0.0275),(2014.1,0.0253),(2014.15,0.0268),(2014.2,0.0275),(2014.25,0.0235),(2014.3,0.0242),(2014.35,0.0231),(2014.4,0.0213),(2014.45,0.0206),(2014.5,0.0191),(2014.55,0.0187),(2014.6,0.0176),(2014.63,0.0150),(2014.67,0.0198),(2014.75,0.0161),(2014.8,0.0169),(2014.85,0.0165),(2014.9,0.0139),(2014.92,0.0128)]

FONT = "Liberation Sans"
AXIS_COLOR = "#4a4a4a"


def make_panel(title, series, bottom_border):
    p = figure(frame_width=612, frame_height=273,
               x_range=Range1d(2005, 2015), y_range=Range1d(0, 0.06),
               min_border_left=35, min_border_right=16,
               min_border_top=22, min_border_bottom=bottom_border,
               output_backend="svg", toolbar_location=None,
               background_fill_color="white", border_fill_color="white")

    p.title.text = title
    p.title.align = "center"
    p.title.text_font = FONT
    p.title.text_font_size = "11px"
    p.title.text_font_style = "normal"
    p.title.text_color = "black"
    p.title.standoff = 7

    p.outline_line_color = AXIS_COLOR
    p.outline_line_width = 1

    p.xaxis.ticker = FixedTicker(ticks=YEAR_TICKS)
    p.yaxis.ticker = FixedTicker(ticks=Y_TICKS)
    p.yaxis.major_label_overrides = dict(zip(Y_TICKS, Y_LABELS))
    p.xaxis.major_label_overrides = {y: str(y) for y in YEAR_TICKS}

    for ax in (p.xaxis[0], p.yaxis[0]):
        ax.axis_line_color = AXIS_COLOR
        ax.major_tick_line_color = AXIS_COLOR
        ax.major_tick_in = 5
        ax.major_tick_out = 0
        ax.minor_tick_line_color = None
        ax.major_label_text_font = FONT
        ax.major_label_text_font_size = "10.5px"
        ax.major_label_text_color = "black"
    p.yaxis.major_label_standoff = 4
    p.xaxis.major_label_standoff = 3

    p.grid.grid_line_color = "#dadada"
    p.grid.grid_line_dash = "3 3"
    p.grid.grid_line_width = 1

    # inward tick marks along the right and top edges of the box
    # (dash markers centred on the edge; the outer half is clipped by the frame)
    p.scatter([2015] * len(Y_TICKS), Y_TICKS, marker="dash", size=10,
              line_color=AXIS_COLOR, line_width=1)
    p.scatter(YEAR_TICKS, [0.06] * len(YEAR_TICKS), marker="dash", size=10,
              angle=math.pi / 2, line_color=AXIS_COLOR, line_width=1)

    items = []
    for label, data, color in series:
        xs = [d[0] for d in data]
        ys = [d[1] for d in data]
        r = p.line(xs, ys, line_color=color, line_width=0.8)
        items.append(LegendItem(label=label, renderers=[r]))

    legend = Legend(items=items, location="top_right")
    legend.border_line_color = "#262626"
    legend.border_line_width = 1
    legend.background_fill_color = "white"
    legend.background_fill_alpha = 1
    legend.label_text_font = FONT
    legend.label_text_font_size = "11px"
    legend.label_text_color = "black"
    legend.glyph_width = 30
    legend.glyph_height = 12
    legend.label_height = 12
    legend.label_standoff = 5
    legend.spacing = 1
    legend.padding = 4
    legend.margin = 5
    p.add_layout(legend)
    return p


p1 = make_panel("Disc, Daily",
                [("20", disc_20, "#ff0000"), ("30", disc_30, "#0000ff"), ("50", disc_50, "#ff00ff")], 41)
p2 = make_panel("Yield, Daily",
                [("20", yield_20, "#ff0000"), ("30", yield_30, "#0000ff"), ("50", yield_50, "#ff00ff")], 41)
p3 = make_panel("Forw, Daily", [("50", forw_50, "#ff0000")], 16)

layout = column(p1, p2, p3, spacing=0)
open("out.html", "w").write(file_html(layout, INLINE))
